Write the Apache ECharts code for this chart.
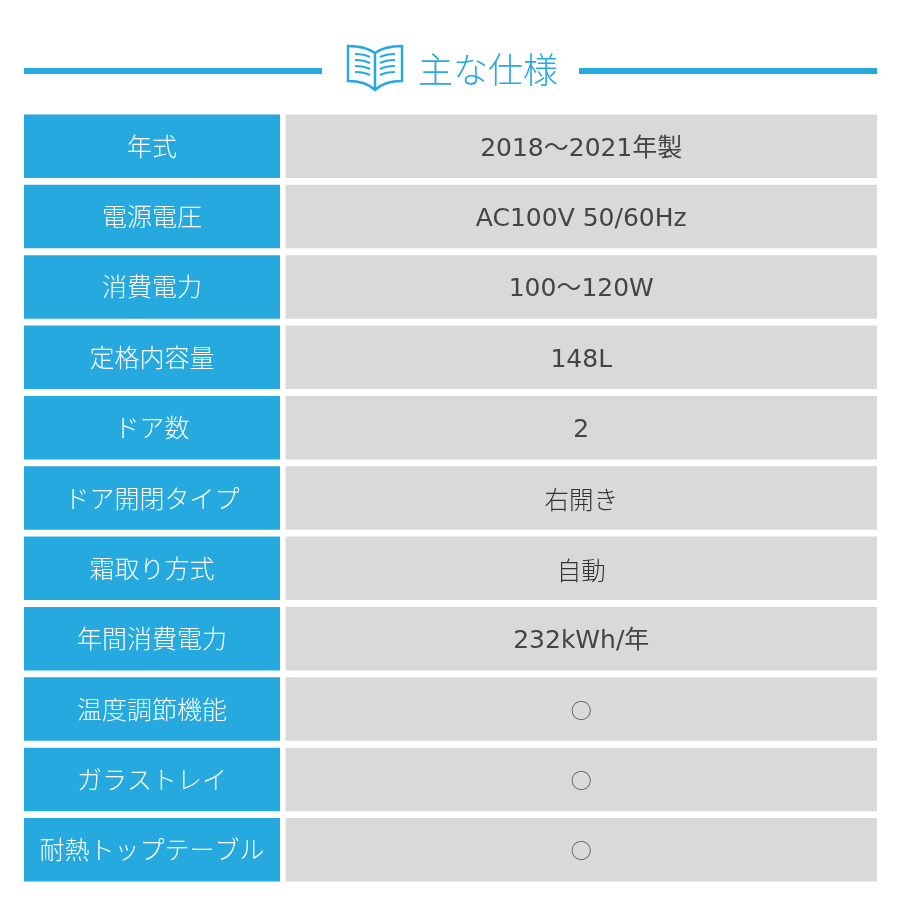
<!DOCTYPE html>
<html>
<head>
<meta charset="utf-8">
<title>主な仕様</title>
<style>
html,body{margin:0;padding:0;background:#fff;}
#main{width:900px;height:900px;}
</style>
<script src="https://cdn.jsdelivr.net/npm/echarts@6/dist/echarts.min.js"></script>
</head>
<body>
<div id="main"></div>
<script>
var titleText = '主な仕様';
var specNames = ['年式','電源電圧','消費電力','定格内容量','ドア数','ドア開閉タイプ','霜取り方式','年間消費電力','温度調節機能','ガラストレイ','耐熱トップテーブル'];
var specValues = ['2018～2021年製','AC100V 50/60Hz','100～120W','148L','2','右開き','自動','232kWh/年','○','○','○'];

var BLUE = '#26a9df', GRAY = '#d9d9d9', FONT = '"DejaVu Sans","Noto Sans CJK JP",sans-serif', CJK = '"Noto Sans CJK JP",sans-serif';

// 一行分のセル（左=項目名 / 右=値）
function renderRow(params, api){
	var rect = params.coordSys;
	var cy = api.coord([0, api.value(0)])[1];
	var h = 63.5, splitL = 256, splitR = 261.5;
	var val = specValues[params.dataIndex];
	var valFont = '400 25px '+FONT, valY = cy+3, valColor = '#444';
	if(val=='○'){
		valFont = '400 21px '+CJK;
		valY = cy+0.5;
		valColor = '#555';
	}
	else if(!/[0-9A-Za-z]/.test(val)){
		valFont = '300 24.5px '+CJK;
		valY = cy+2;
		valColor = '#333';
	}
	return {
		type:'group',
		children:[
			{type:'rect', shape:{x:rect.x, y:cy-h/2, width:splitL, height:h}, style:{fill:BLUE}},
			{type:'rect', shape:{x:rect.x+splitR, y:cy-h/2, width:rect.width-splitR, height:h}, style:{fill:GRAY}},
			{type:'text', x:rect.x+splitL/2, y:cy+3, style:{text:specNames[params.dataIndex], fill:'#fff', font:'300 25px '+FONT, align:'center', verticalAlign:'middle'}},
			{type:'text', x:rect.x+splitR+(rect.width-splitR)/2, y:valY, style:{text:val, fill:valColor, font:valFont, align:'center', verticalAlign:'middle'}}
		]
	};
}

// 見出しの本アイコン
function renderBook(){
	return {
		type:'group',
		children:[
			{type:'path', shape:{pathData:'M375 53 C368 48 358 46 348 46 L348 81 C358 81 368 83 375 90 C382 83 392 81 402 81 L402 46 C392 46 382 48 375 53 Z M375 53 L375 90', x:348, y:46, width:54, height:44, layout:'cover'}, style:{fill:'none', stroke:BLUE, lineWidth:2.5}},
			{type:'path', shape:{pathData:'M355 54 C361 54 366 55 370 57 M355 60 C361 60 366 61 370 63 M355 66 C361 66 366 67 370 69 M355 72 C361 72 366 73 370 75 M395 54 C389 54 384 55 380 57 M395 60 C389 60 384 61 380 63 M395 66 C389 66 384 67 380 69 M395 72 C389 72 384 73 380 75', x:355, y:54, width:40, height:21, layout:'cover'}, style:{fill:'none', stroke:BLUE, lineWidth:2}}
		]
	};
}

var myChart = echarts.init(document.getElementById('main'));
var option = {
	animation:false,
	backgroundColor:'#fff',
	grid:{left:24, right:23, top:111, height:774},
	xAxis:{type:'value', min:0, max:1, show:false},
	yAxis:{type:'category', inverse:true, data:specNames, show:false},
	series:[{
		type:'custom',
		coordinateSystem:'cartesian2d',
		renderItem:renderRow,
		encode:{y:0},
		data:specNames.map(function(n, i){ return [i]; })
	},{
		type:'custom',
		coordinateSystem:'none',
		renderItem:renderBook,
		data:[[0]]
	}],
	graphic:[
		{type:'rect', shape:{x:24, y:68, width:298, height:6}, style:{fill:BLUE}},
		{type:'rect', shape:{x:579, y:68, width:298, height:6}, style:{fill:BLUE}},
		{type:'text', x:418, y:74, style:{text:titleText, fill:BLUE, font:'300 35px '+FONT, verticalAlign:'middle'}}
	]
};
myChart.setOption(option);
</script>
</body>
</html>
